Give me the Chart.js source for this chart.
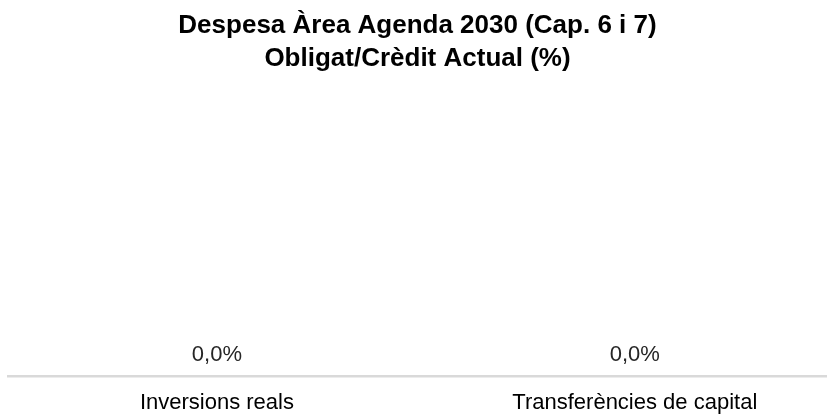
<!DOCTYPE html>
<html>
<head>
<meta charset="utf-8">
<script src="https://cdn.jsdelivr.net/npm/chart.js@4/dist/chart.umd.min.js"></script>
<style>
  html, body { margin: 0; padding: 0; background: #fff; }
</style>
</head>
<body>
<canvas id="chart" width="827" height="416"></canvas>
<script>
// Despesa Àrea Agenda 2030 - Obligat/Crèdit Actual (%)
const categories = ['Inversions reals', 'Transferències de capital'];
const percentatges = [0, 0];

const fmtPct = v => v.toFixed(1).replace('.', ',') + '%';

// etiquetes de valor damunt de cada barra
const valueLabels = {
    id: 'valueLabels',
    afterDatasetsDraw(chart) {
        const ctx = chart.ctx;
        const meta = chart.getDatasetMeta(0);
        ctx.save();
        ctx.font = '22px "Liberation Sans", Arial, sans-serif';
        ctx.fillStyle = '#262626';
        ctx.textAlign = 'center';
        ctx.textBaseline = 'alphabetic';
        meta.data.forEach((bar, i) => {
            ctx.fillText(fmtPct(percentatges[i]), bar.x, bar.y - 16);
        });
        ctx.restore();
    }
};

new Chart(document.getElementById('chart').getContext('2d'), {
    type: 'bar',
    data: {
        datasets: [{
            data: categories.map((c, i) => ({ x: i, y: percentatges[i] })),
            backgroundColor: '#4472c4',
            borderWidth: 0
        }]
    },
    options: {
        responsive: false,
        animation: false,
        layout: { padding: { left: 8, right: 0, top: 9, bottom: -13 } },
        plugins: {
            legend: { display: false },
            tooltip: { enabled: false },
            title: {
                display: true,
                text: ['Despesa Àrea Agenda 2030 (Cap. 6 i 7)', 'Obligat/Crèdit Actual (%)'],
                color: '#000',
                font: { family: '"Liberation Sans", Arial, sans-serif', size: 26, weight: 'bold', lineHeight: 1.27 },
                padding: { top: 0, bottom: 10 }
            }
        },
        scales: {
            x: {
                type: 'linear',
                offset: false,
                min: -0.5,
                max: 1.46,
                grid: { display: false, drawTicks: false },
                border: { display: true, color: '#d9d9d9', width: 2.5 },
                ticks: {
                    stepSize: 1,
                    includeBounds: false,
                    autoSkip: false,
                    maxRotation: 0,
                    color: '#000',
                    padding: 13,
                    font: { family: '"Liberation Sans", Arial, sans-serif', size: 22 },
                    callback: v => Number.isInteger(v) ? categories[v] : ''
                }
            },
            y: {
                display: false,
                min: 0,
                max: 1
            }
        }
    },
    plugins: [valueLabels]
});
</script>
</body>
</html>
